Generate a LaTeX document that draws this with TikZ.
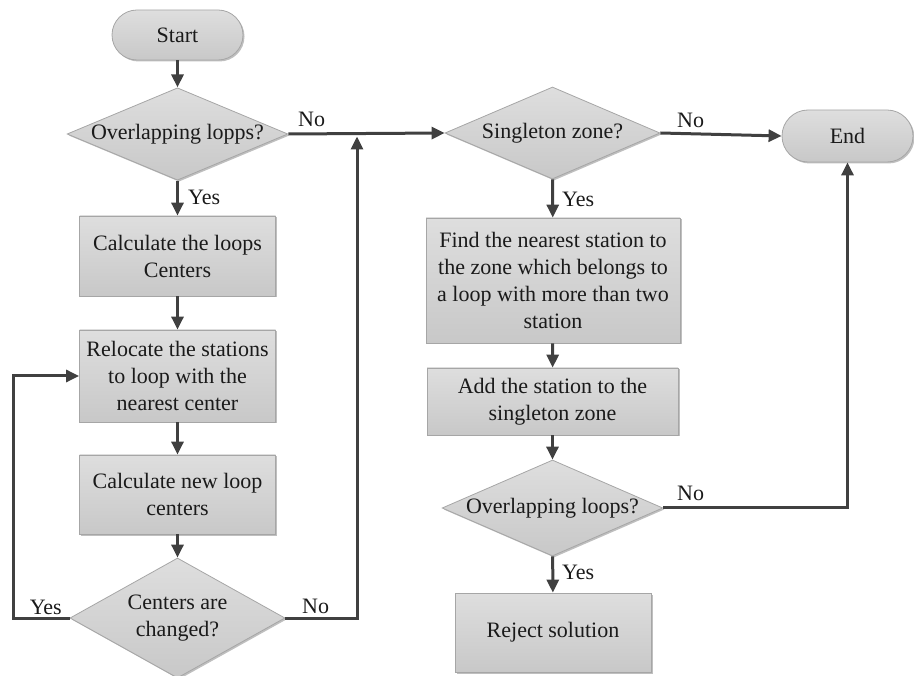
\documentclass[tikz,border=0pt]{standalone}
\usepackage{fontspec}
\setmainfont{Liberation Serif}
\usetikzlibrary{shapes.geometric,shadows,arrows.meta}
\definecolor{boxtop}{HTML}{DEDEDE}
\definecolor{boxbot}{HTML}{C8C8C8}
\definecolor{boxborder}{HTML}{A6A6A6}
\definecolor{arrowc}{HTML}{404040}
\definecolor{txt}{HTML}{1A1A1A}
\begin{document}
\begin{tikzpicture}[x=1pt,y=-1pt,
  base/.style={draw=boxborder, line width=0.8pt, top color=boxtop, bottom color=boxbot,
    drop shadow={shadow xshift=1.5pt, shadow yshift=-1.5pt, opacity=0.25, fill=black},
    text=txt, font=\fontsize{22}{27}\selectfont, inner sep=0pt, align=center},
  procbox/.style={base, rectangle},
  term/.style={base, rectangle, rounded corners=25pt},
  decision/.style={base, diamond, aspect=2.39},
  arr/.style={line width=3pt, draw=arrowc, -{Triangle[length=13pt,width=12pt]}},
  lbl/.style={font=\fontsize{22}{27}\selectfont, text=txt, inner sep=0pt}
]
\useasboundingbox (0,0) rectangle (914,676);

% left column
\node[term, minimum width=131pt, minimum height=50pt] (start) at (177.5,35) {Start};
\node[decision, minimum width=215pt, minimum height=90pt] (d1) at (177.5,134) {Overlapping lopps?};
\node[procbox, minimum width=196pt, minimum height=80pt] (b1) at (177.5,256) {Calculate the loops\\Centers};
\node[procbox, minimum width=196pt, minimum height=92pt] (b2) at (177.5,376) {Relocate the stations\\to loop with the\\nearest center};
\node[procbox, minimum width=196pt, minimum height=79pt] (b3) at (177.5,494.5) {Calculate new loop\\centers};
\node[decision, minimum width=215pt, minimum height=120pt] (d3) at (177.5,618) {Centers are\\changed?};

% right column
\node[decision, minimum width=215pt, minimum height=92pt] (d2) at (552.5,133) {Singleton zone?};
\node[procbox, minimum width=254pt, minimum height=125pt] (b4) at (553,280.5) {Find the nearest station to\\the zone which belongs to\\a loop with more than two\\station};
\node[procbox, minimum width=251pt, minimum height=67pt] (b5) at (552.5,401.5) {Add the station to the\\singleton zone};
\node[decision, minimum width=215pt, minimum height=96pt] (d5) at (552.5,508) {Overlapping loops?};
\node[procbox, minimum width=196pt, minimum height=79pt] (b6) at (553,632.5) {Reject solution};
\node[term, minimum width=131pt, minimum height=52pt, rounded corners=26pt] (end) at (847.5,136) {End};

% helper coordinates
\coordinate (lp) at (13,618);
\coordinate (rp) at (357,618);
\coordinate (jn) at (357,136.5);

% connectors
\draw[arr] (start) -- (d1);
\draw[arr] (d1) -- (b1);
\draw[arr] (b1) -- (b2);
\draw[arr] (b2) -- (b3);
\draw[arr] (b3) -- (d3);
\draw[arr] (d3.west) -- (lp) |- (b2.west);
\draw[arr] (d3.east) -- (rp) -- (jn);
\draw[arr] (d1.east) -- (d2.west);
\draw[arr] (d2.east) -- (end.west);
\draw[arr] (d2) -- (b4);
\draw[arr] (b4) -- (b5);
\draw[arr] (b5) -- (d5);
\draw[arr] (d5.east) -| (end.south);
\draw[arr] (d5) -- (b6);

% labels
\node[lbl, anchor=west] (no1) at (298,119) {No};
\node[lbl, anchor=west] (yes1) at (188,197) {Yes};
\node[lbl, anchor=east] (yes3) at (62,607) {Yes};
\node[lbl, anchor=west] (no3) at (302,606) {No};
\node[lbl, anchor=west] (no2) at (677,120) {No};
\node[lbl, anchor=west] (yes2) at (562,199) {Yes};
\node[lbl, anchor=west] (no5) at (677,493) {No};
\node[lbl, anchor=west] (yes5) at (562,572) {Yes};
\end{tikzpicture}
\end{document}
